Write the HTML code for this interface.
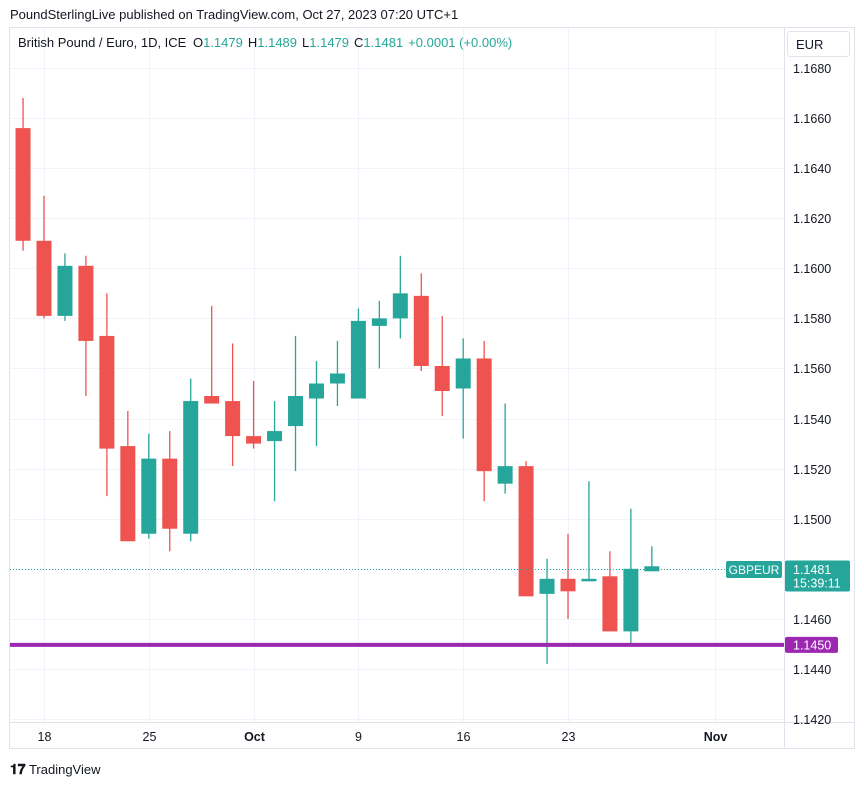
<!DOCTYPE html>
<html><head><meta charset="utf-8"><style>
body{margin:0;background:#fff;font-family:"Liberation Sans",sans-serif;}
svg{display:block}
</style></head><body>
<svg id="chart" width="864" height="785" xmlns="http://www.w3.org/2000/svg" font-family="Liberation Sans, sans-serif">
<rect x="0" y="0" width="864" height="785" fill="#fff"/>
<text x="10" y="19" font-size="13" fill="#131722">PoundSterlingLive published on TradingView.com, Oct 27, 2023 07:20 UTC+1</text>
<rect x="9.5" y="27.5" width="845" height="721" fill="none" stroke="#e0e3eb"/>
<line x1="784.5" y1="28" x2="784.5" y2="748" stroke="#e0e3eb"/>
<line x1="10" y1="722.5" x2="854" y2="722.5" stroke="#e0e3eb"/>
<g id="grid"></g>
<g id="candles"></g>
<g id="axis"></g>
<text x="18" y="47" font-size="13" fill="#131722">British Pound / Euro, 1D, ICE <tspan dx="3">O</tspan><tspan fill="#26a69a">1.1479</tspan><tspan dx="5">H</tspan><tspan fill="#26a69a">1.1489</tspan><tspan dx="5">L</tspan><tspan fill="#26a69a">1.1479</tspan><tspan dx="5">C</tspan><tspan fill="#26a69a">1.1481</tspan><tspan dx="5" fill="#26a69a">+0.0001 (+0.00%)</tspan></text>
<rect x="787.5" y="31.5" width="62" height="25" rx="3" fill="#fff" stroke="#e0e3eb"/>
<text x="796" y="49" font-size="13" fill="#131722">EUR</text>
<text x="10" y="774" font-size="13" fill="#131722"><tspan font-weight="bold" font-size="14">𝟏𝟕</tspan> TradingView</text>
</svg>
<script>
const dates=["Sep 15","Sep 18","Sep 19","Sep 20","Sep 21","Sep 22","Sep 25","Sep 26","Sep 27","Sep 28","Sep 29","Oct 2","Oct 3","Oct 4","Oct 5","Oct 6","Oct 9","Oct 10","Oct 11","Oct 12","Oct 13","Oct 16","Oct 17","Oct 18","Oct 19","Oct 20","Oct 23","Oct 24","Oct 25","Oct 26","Oct 27"];
const opens=[1.1656,1.1611,1.1581,1.1601,1.1573,1.1529,1.1494,1.1524,1.1494,1.1549,1.1547,1.1533,1.1531,1.1537,1.1548,1.1554,1.1548,1.1577,1.1580,1.1589,1.1561,1.1552,1.1564,1.1514,1.1521,1.1470,1.1476,1.1475,1.1477,1.1455,1.1479];
const highs=[1.1668,1.1629,1.1606,1.1605,1.1590,1.1543,1.1534,1.1535,1.1556,1.1585,1.1570,1.1555,1.1547,1.1573,1.1563,1.1571,1.1584,1.1587,1.1605,1.1598,1.1581,1.1572,1.1571,1.1546,1.1523,1.1484,1.1494,1.1515,1.1487,1.1504,1.1489];
const lows=[1.1607,1.1580,1.1579,1.1549,1.1509,1.1491,1.1492,1.1487,1.1491,1.1546,1.1521,1.1528,1.1507,1.1519,1.1529,1.1545,1.1548,1.1560,1.1572,1.1559,1.1541,1.1532,1.1507,1.1510,1.1469,1.1442,1.1460,1.1475,1.1455,1.1449,1.1479];
const closes=[1.1611,1.1581,1.1601,1.1571,1.1528,1.1491,1.1524,1.1496,1.1547,1.1546,1.1533,1.1530,1.1535,1.1549,1.1554,1.1558,1.1579,1.1580,1.1590,1.1561,1.1551,1.1564,1.1519,1.1521,1.1469,1.1476,1.1471,1.1476,1.1455,1.1480,1.1481];
const priceTicks=[1.1420,1.1440,1.1460,1.1480,1.1500,1.1520,1.1540,1.1560,1.1580,1.1600,1.1620,1.1640,1.1660,1.1680];
const timeLabels=["18","25","Oct","9","16","23","Nov"];
const timeLabelIdx=[1,6,11,16,21,26,33];
const lastPrice=1.1481, hLinePrice=1.1450;

const NS="http://www.w3.org/2000/svg";
const yS=p=>68+(1.1680-p)/0.002*50.08;
const xS=i=>44+(i-1)*20.96;
function mk(parent,tag,attrs){const e=document.createElementNS(NS,tag);for(const k in attrs)e.setAttribute(k,attrs[k]);parent.appendChild(e);return e;}
const grid=document.getElementById('grid'),cg=document.getElementById('candles'),ax=document.getElementById('axis');
priceTicks.forEach(p=>{
  const y=Math.round(yS(p))+0.5;
  const l=mk(grid,'line',{x1:10,x2:784,y1:y,y2:y,stroke:'#f0f3fa'});
  
  
  const t=mk(ax,'text',{x:793,y:y+4.5,'font-size':12.5,fill:'#131722'});
  t.textContent=p.toFixed(4);
  
  
});
timeLabels.forEach((s,k)=>{
  const x=Math.round(xS(timeLabelIdx[k]))+0.5;
  const l=mk(grid,'line',{x1:x,x2:x,y1:28,y2:722,stroke:'#f0f3fa'});
  
  
  const t=mk(ax,'text',{x:x,y:741,'font-size':12.5,fill:'#131722','text-anchor':'middle','font-weight':(s==='Oct'||s==='Nov')?'bold':'normal'});
  t.textContent=s;
  
  
});
dates.forEach((d,i)=>{
  const up=closes[i]>=opens[i];const col=up?'#26a69a':'#ef5350';
  const x=xS(i);
  const g=mk(cg,'g',{});
  
  
  mk(g,'line',{x1:x,x2:x,y1:yS(highs[i]),y2:yS(lows[i]),stroke:col,'stroke-width':1.3});
  const t=yS(Math.max(opens[i],closes[i])),b=yS(Math.min(opens[i],closes[i]));
  mk(g,'rect',{x:x-7.5,y:t,width:15,height:Math.max(1,b-t),fill:col});
});
// last price dotted line
const ly=Math.round(yS(lastPrice))+3.5;
const dl=mk(ax,'line',{x1:10,x2:784,y1:ly,y2:ly,stroke:'#26a69a','stroke-dasharray':'1 2'});


const sym=mk(ax,'rect',{x:726,y:ly-8.5,width:56,height:17,rx:2,fill:'#26a69a'});


const st=mk(ax,'text',{x:754,y:ly+4.5,'font-size':12,fill:'#fff','text-anchor':'middle'});st.textContent='GBPEUR';
const pb=mk(ax,'rect',{x:785,y:ly-9,width:65,height:31,rx:2,fill:'#26a69a'});


const pt=mk(ax,'text',{x:793,y:ly+4.5,'font-size':12.5,fill:'#fff'});pt.textContent=lastPrice.toFixed(4);
const ct=mk(ax,'text',{x:793,y:ly+18,'font-size':12.5,fill:'#fff'});ct.textContent='15:39:11';
// horizontal level line
const hy=yS(hLinePrice)+1;
const hl=mk(ax,'line',{x1:10,x2:784,y1:hy,y2:hy,stroke:'#9c27b0','stroke-width':4});


const hb=mk(ax,'rect',{x:785,y:hy-8,width:53,height:16,rx:2,fill:'#9c27b0'});


const ht=mk(ax,'text',{x:793,y:hy+4.5,'font-size':12.5,fill:'#fff'});ht.textContent=hLinePrice.toFixed(4);
</script>
</body></html>
